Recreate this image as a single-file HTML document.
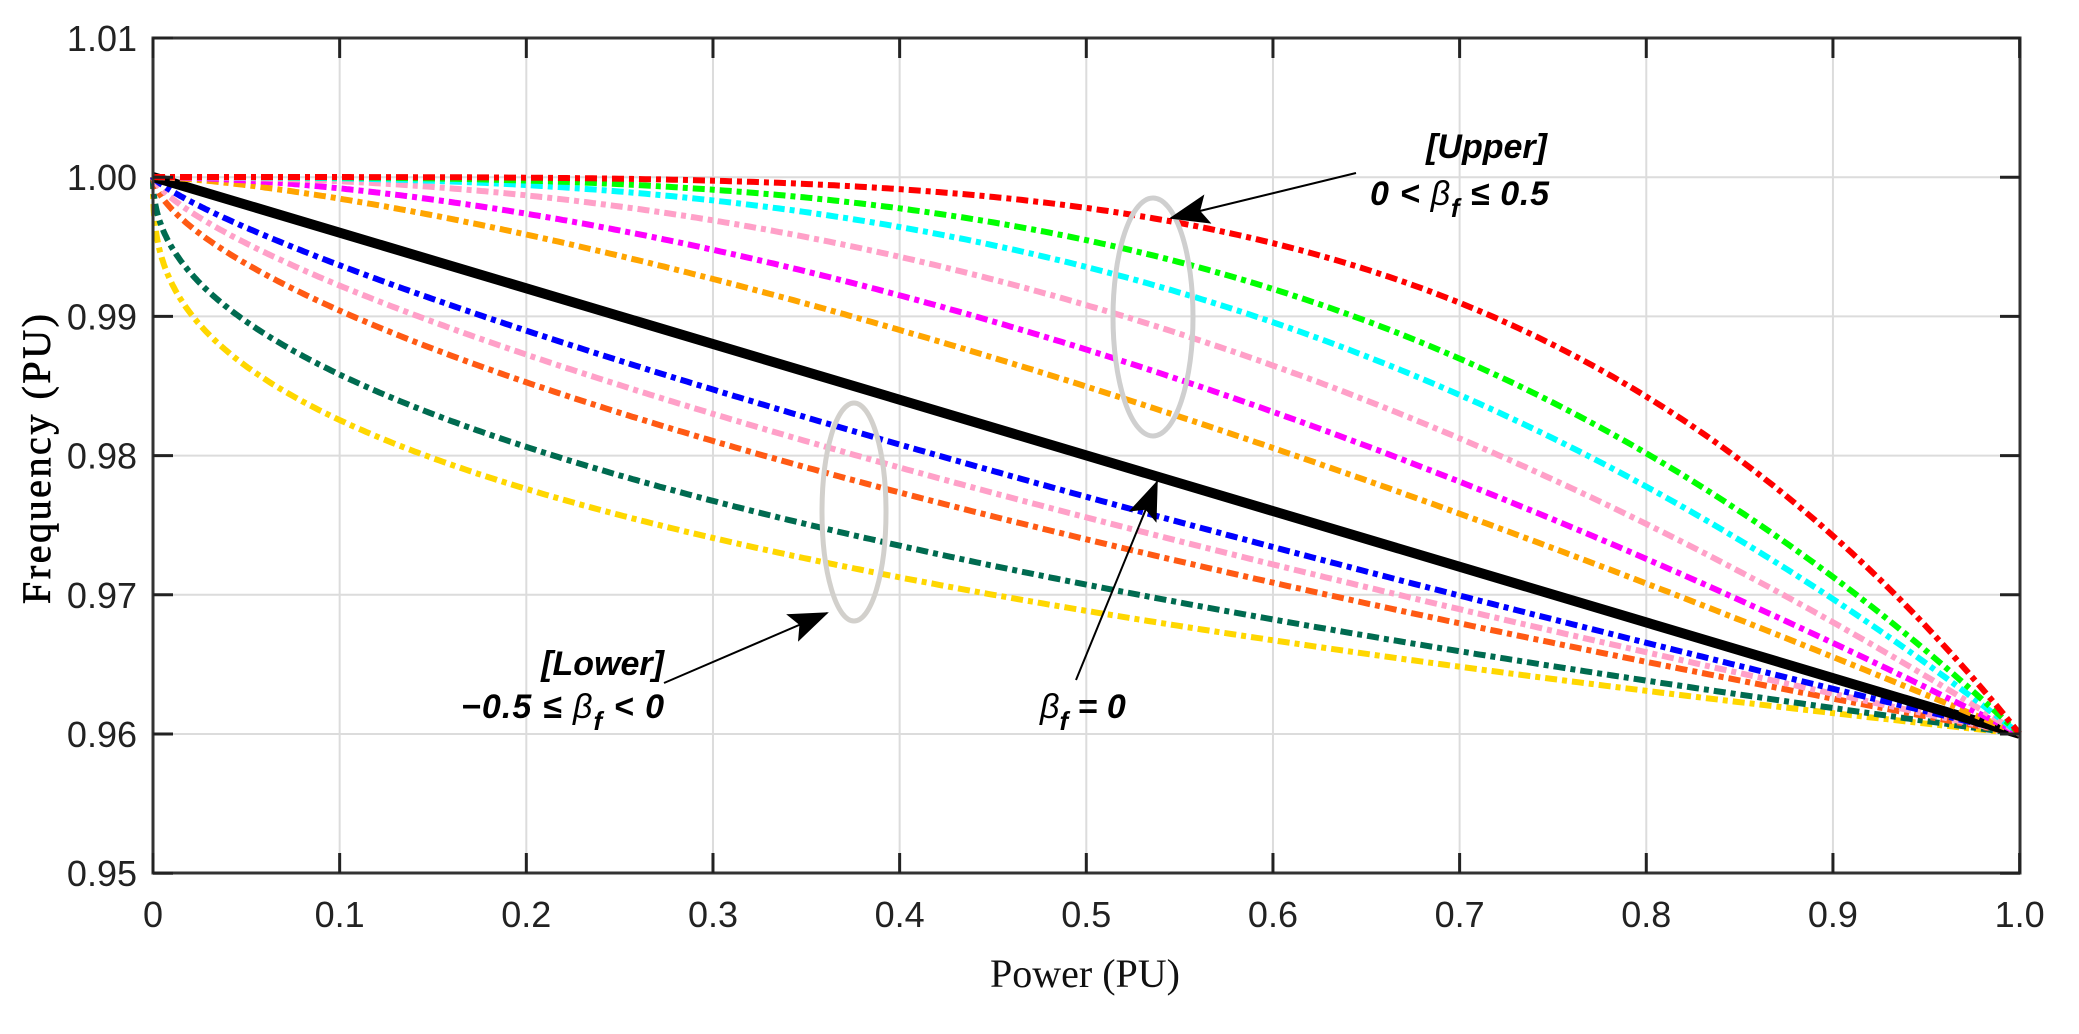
<!DOCTYPE html>
<html><head><meta charset="utf-8"><style>
html,body{margin:0;padding:0;background:#fff;}
svg{display:block;}
.t{font-family:"Liberation Sans",sans-serif;font-size:36px;fill:#222;}
.a{font-family:"Liberation Sans",sans-serif;font-weight:bold;font-style:italic;font-size:34px;fill:#000;}
</style></head><body>
<svg id="s" width="2079" height="1034" viewBox="0 0 2079 1034" xmlns="http://www.w3.org/2000/svg">
<rect width="2079" height="1034" fill="#fff"/>
<g id="grid" stroke="#dcdcdc" stroke-width="2"></g>
<g id="curves" fill="none"></g>
<rect x="153" y="38" width="1867" height="835" fill="none" stroke="#333" stroke-width="3"/>
<g id="ticks" stroke="#222" stroke-width="3"></g>
<g id="labels"></g>
<text x="1085" y="987" text-anchor="middle" font-family="Liberation Serif, serif" font-size="40" fill="#111">Power (PU)</text>
<text transform="translate(50,459) rotate(-90)" text-anchor="middle" font-family="Liberation Serif, serif" font-size="40" fill="#000" stroke="#000" stroke-width="0.7" textLength="290">Frequency (PU)</text>
<ellipse cx="1153" cy="317" rx="40" ry="119" fill="none" stroke="#cfcfcf" stroke-width="5"/>
<ellipse cx="854" cy="512" rx="32" ry="109" fill="none" stroke="#d2d0cc" stroke-width="5"/>
<defs>
<marker id="ar2" markerWidth="40" markerHeight="30" refX="38" refY="15" orient="auto" markerUnits="userSpaceOnUse"><path d="M0,0 L40,15 L0,30 L8,15 z" fill="#000"/></marker></defs>
<line x1="1356" y1="173" x2="1171" y2="218" stroke="#000" stroke-width="2" marker-end="url(#ar2)"/>
<line x1="664" y1="683" x2="827" y2="613" stroke="#000" stroke-width="2" marker-end="url(#ar2)"/>
<line x1="1076" y1="680" x2="1157" y2="482" stroke="#000" stroke-width="2" marker-end="url(#ar2)"/>
<text class="a" x="1547" y="158" text-anchor="end">[Upper]</text>
<text class="a" x="1370" y="205" textLength="179">0 &lt; <tspan font-weight="normal">β</tspan><tspan font-size="26" dy="12">f</tspan><tspan dy="-12"> ≤ 0.5</tspan></text>
<text class="a" x="664" y="675" text-anchor="end">[Lower]</text>
<text class="a" x="461" y="718" textLength="203">−0.5 ≤ <tspan font-weight="normal">β</tspan><tspan font-size="26" dy="12">f</tspan><tspan dy="-12"> &lt; 0</tspan></text>
<text class="a" x="1040" y="718"><tspan font-weight="normal">β</tspan><tspan font-size="26" dy="12">f</tspan><tspan dy="-12"> = 0</tspan></text>
</svg>
<script>
var NS="http://www.w3.org/2000/svg";
function X(p){return 153+p*1866.6;}
function Y(f){return 177+(1-f)/0.01*139.2;}
function el(n,a,par){var e=document.createElementNS(NS,n);for(var k in a)e.setAttribute(k,a[k]);document.getElementById(par).appendChild(e);return e;}
for(var i=1;i<10;i++){el("line",{x1:X(i/10),y1:38,x2:X(i/10),y2:873},"grid");}
for(var j=1;j<6;j++){var y=38+j*139.2;el("line",{x1:153,y1:y,x2:2020,y2:y},"grid");}
for(var i=0;i<=10;i++){var x=X(i/10);el("line",{x1:x,y1:873,x2:x,y2:853},"ticks");el("line",{x1:x,y1:38,x2:x,y2:58},"ticks");
 var t=el("text",{x:x,y:927,"text-anchor":"middle","class":"t"},"labels");t.textContent=i==0?"0":(i==10?"1.0":(i/10).toFixed(1));}
for(var j=0;j<=6;j++){var y=38+j*139.2;el("line",{x1:153,y1:y,x2:173,y2:y},"ticks");el("line",{x1:2020,y1:y,x2:2000,y2:y},"ticks");
 var t=el("text",{x:137,y:y+13,"text-anchor":"end","class":"t"},"labels");t.textContent=(1.01-j*0.01).toFixed(2);}
var series=[[0.36,"#ffd700"],[0.45,"#006b50"],[0.62,"#ff5a14"],[0.71,"#ffa0c8"],[0.80,"#0000ff"],
[1.41,"#ffa500"],[1.69,"#ff00ff"],[2.12,"#ffa0c8"],[2.63,"#00ffff"],[3.14,"#00ff00"],[4.17,"#ff0000"]];
function path(n){var d="";for(var k=0;k<=400;k++){var p=Math.pow(k/400,1.6);var g=Math.pow(p,n);d+=(k?"L":"M")+X(p).toFixed(1)+","+Y(1-0.04*g).toFixed(1);}return d;}
series.forEach(function(s,i){
 if(i==5){el("path",{d:"M"+X(0)+","+Y(1)+"L"+X(1)+","+Y(0.96),stroke:"#000","stroke-width":10},"curves");}
 el("path",{d:path(s[0]),stroke:s[1],"stroke-width":6,"stroke-dasharray":"12 5 5 5"},"curves");
});
</script>
</body></html>
